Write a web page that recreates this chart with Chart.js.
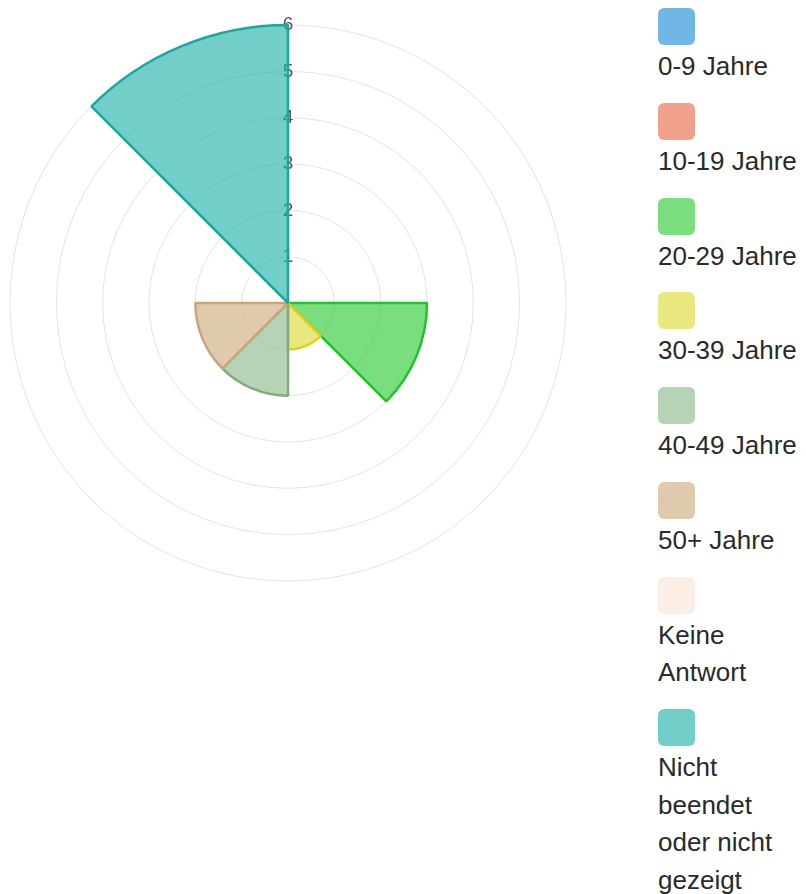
<!DOCTYPE html>
<html>
<head>
<meta charset="utf-8">
<script src="https://cdn.jsdelivr.net/npm/chart.js@4/dist/chart.umd.min.js"></script>
<style>
    body { margin: 0; background: #fff; font-family: 'Liberation Sans', Arial, sans-serif; }
    #wrap { position: relative; width: 806px; height: 894px; overflow: hidden; }
    #chartBox { position: absolute; left: 0; top: 0; width: 576px; height: 606px; }
    #legend { position: absolute; left: 658px; top: 8px; width: 148px; }
    #legend ul { list-style: none; margin: 0; padding: 0; }
    #legend li { margin: 0 0 17.3px 0; }
    #legend .box { width: 37px; height: 37px; border-radius: 6px; margin-bottom: 3px; }
    #legend .txt { font-size: 26px; line-height: 37.5px; color: #2a2a2a; }
</style>
</head>
<body>
<div id="wrap">
    <div id="chartBox"><canvas id="chart"></canvas></div>
    <div id="legend"></div>
</div>
<script>
'use strict';

const ageGroups = ['0-9 Jahre', '10-19 Jahre', '20-29 Jahre', '30-39 Jahre',
    '40-49 Jahre', '50+ Jahre', 'Keine Antwort', 'Nicht beendet oder nicht gezeigt'];
const answerCounts = [0, 0, 3, 1, 2, 2, 0, 6];
const fillColors = [
    'rgba(52, 152, 219, 0.7)',
    'rgba(233, 120, 90, 0.7)',
    'rgba(34, 200, 42, 0.6)',
    'rgba(216, 216, 40, 0.6)',
    'rgba(143, 188, 143, 0.65)',
    'rgba(210, 180, 140, 0.7)',
    'rgba(250, 225, 212, 0.6)',
    'rgba(32, 178, 170, 0.63)',
];
const lineColors = [
    'rgb(52, 152, 219)',
    'rgb(233, 120, 90)',
    'rgb(34, 195, 42)',
    'rgb(216, 210, 40)',
    'rgb(130, 170, 130)',
    'rgb(200, 165, 125)',
    'rgb(240, 210, 195)',
    'rgb(30, 165, 157)',
];

Chart.defaults.font.family = "'Liberation Sans', Arial, sans-serif";

function buildLegend(chart) {
    const ul = document.createElement('ul');
    chart.data.labels.forEach((label, i) => {
        const li = document.createElement('li');
        const box = document.createElement('div');
        box.className = 'box';
        box.style.background = chart.data.datasets[0].backgroundColor[i];
        const txt = document.createElement('div');
        txt.className = 'txt';
        txt.textContent = label;
        li.appendChild(box);
        li.appendChild(txt);
        ul.appendChild(li);
    });
    const holder = document.getElementById('legend');
    holder.innerHTML = '';
    holder.appendChild(ul);
}

const chart = new Chart(document.getElementById('chart').getContext('2d'), {
    type: 'polarArea',
    data: {
        labels: ageGroups,
        datasets: [{
            data: answerCounts,
            backgroundColor: fillColors,
            borderColor: lineColors,
            borderWidth: 2.5,
        }],
    },
    options: {
        responsive: true,
        maintainAspectRatio: false,
        animation: false,
        plugins: {
            legend: { display: false },
            tooltip: { enabled: false },
        },
        scales: {
            r: {
                beginAtZero: true,
                ticks: {
                    stepSize: 1,
                    color: '#555',
                    font: { size: 19, lineHeight: 0.9 },
                    backdropPadding: 0,
                },
                grid: { color: 'rgba(0, 0, 0, 0.11)' },
            },
        },
    },
});
buildLegend(chart);
</script>
</body>
</html>
